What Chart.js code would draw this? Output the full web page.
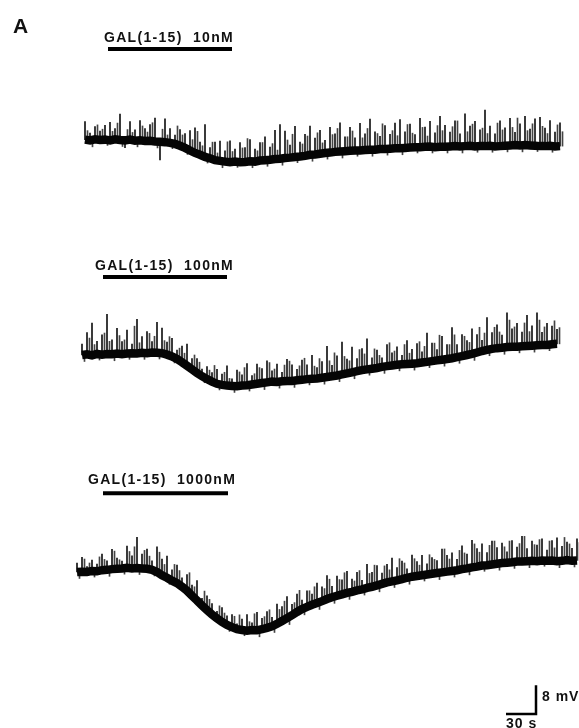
<!DOCTYPE html>
<html>
<head>
    <title>GAL(1-15) membrane potential traces</title>
    <script src="https://cdn.jsdelivr.net/npm/chart.js"></script>
    <style>
        body { margin: 0; background: #fff; }
        #wrap { position: relative; width: 579px; height: 728px; overflow: hidden; }
        #wrap canvas { position: absolute; left: 0; top: 0; }
        .lbl {
            position: absolute;
            font-family: Arial, "Liberation Sans", sans-serif;
            font-weight: bold;
            color: #111;
            white-space: pre;
            line-height: 1;
        }
        .drug { font-size: 14px; letter-spacing: 1.3px; }
    </style>
</head>
<body>
<div id="wrap">
    <canvas id="traces" width="579" height="728"></canvas>
    <div class="lbl" style="left:13px; top:15px; font-size:21px;">A</div>
    <div class="lbl drug" style="left:104px; top:30px;">GAL(1-15)  10nM</div>
    <div class="lbl drug" style="left:95px; top:258px;">GAL(1-15)  100nM</div>
    <div class="lbl drug" style="left:88px; top:472px;">GAL(1-15)  1000nM</div>
    <div class="lbl" style="left:542px; top:689px; font-size:14px; letter-spacing:1px;">8 mV</div>
    <div class="lbl" style="left:506px; top:716px; font-size:14px; letter-spacing:1px;">30 s</div>
</div>

<script>
    // membrane potential, mV relative to resting level, one sample every 5 s
    const DT = 5;

    // 10 nM
    const v10 = [
        0.1,-0.1,0.2,0.0,0.1,-0.1,0.2,0.0,-0.1,0.1,
        -0.2,-0.1,-0.3,-0.2,-0.4,-0.5,-0.6,-0.8,-1.1,-1.6,
        -2.2,-2.9,-3.6,-4.1,-4.7,-5.1,-5.6,-5.8,-6.0,-6.2,
        -6.0,-6.2,-6.1,-5.9,-6.0,-5.7,-5.6,-5.5,-5.3,-5.2,
        -5.0,-4.9,-4.7,-4.6,-4.4,-4.1,-4.0,-3.8,-3.6,-3.5,
        -3.3,-3.2,-3.1,-3.0,-2.9,-2.9,-2.8,-2.7,-2.7,-2.5,
        -2.5,-2.4,-2.3,-2.3,-2.2,-2.1,-2.0,-2.0,-1.9,-1.8,
        -2.0,-1.9,-1.9,-1.8,-1.7,-1.8,-1.7,-1.6,-1.8,-1.7,
        -1.7,-1.6,-1.8,-1.7,-1.6,-1.5,-1.4,-1.5,-1.4,-1.5,
        -1.6,-1.7,-1.7,-1.6,-1.8,-1.7
    ];
    // spike excursions from the trace at each sample, mV
    const s10 = [
        5.0,2.0,3.5,2.5,4.0,5.0,3.0,7.2,-2.0,5.0,
        3.0,5.5,3.5,4.5,6.5,-5.0,6.5,4.0,2.5,4.5,
        4.0,5.5,7.0,3.5,9.0,3.0,5.0,5.5,3.0,6.0,
        3.5,5.5,4.0,6.0,3.5,5.0,6.5,3.5,8.0,9.5,
        7.5,3.5,8.5,4.0,6.0,8.0,4.5,6.5,3.5,7.0,
        5.0,8.0,4.0,6.5,3.5,7.5,4.5,8.5,5.0,3.5,
        6.5,4.0,7.0,8.0,4.5,6.5,3.5,8.0,5.5,7.0,
        4.0,8.5,6.0,4.0,7.0,3.5,9.0,5.5,7.0,4.5,
        10.0,5.5,3.5,7.0,5.0,7.5,3.5,6.0,8.0,4.5,
        7.5,8.0,5.0,7.0,4.0,6.5
    ];
    // excursions half way between samples
    const h10 = [
        2.5,-1.8,4.0,3.0,-1.6,2.5,4.5,-1.8,3.0,2.0,
        -1.7,4.0,2.5,5.0,-1.8,3.5,2.0,-1.6,5.0,3.0,
        -1.8,3.0,6.0,2.5,-1.7,4.5,2.0,-1.9,5.5,3.0,
        -1.6,4.0,6.5,-1.8,3.0,5.0,-1.7,4.5,2.5,-1.8,
        5.0,6.5,-1.6,3.5,5.5,-1.8,6.0,3.0,-1.7,5.0,
        6.5,-1.8,4.0,5.5,-1.6,3.5,6.0,-1.8,4.5,7.0,
        -1.7,5.0,3.5,-1.8,6.5,4.0,-1.6,5.5,3.0,-1.8,
        6.0,4.5,-1.7,5.5,7.0,-1.8,4.0,6.0,-1.6,5.0,
        3.5,-1.8,6.5,4.5,-1.7,5.0,7.5,-1.8,4.0,6.0,
        -1.6,5.5,3.5,-1.8,6.0,4.0
    ];

    // 100 nM
    const v100 = [
        0.0,0.2,-0.1,0.3,0.1,0.3,0.2,0.4,0.2,0.4,
        0.5,0.4,0.6,0.5,0.7,0.6,0.5,0.1,-0.4,-1.1,
        -2.0,-3.0,-4.0,-5.0,-5.9,-6.7,-7.4,-8.0,-8.3,-8.5,
        -8.6,-8.7,-8.5,-8.4,-8.2,-8.0,-7.8,-7.6,-7.4,-7.5,
        -7.3,-7.2,-7.2,-7.0,-6.9,-6.7,-6.6,-6.5,-6.3,-6.1,
        -5.9,-5.7,-5.4,-5.1,-4.8,-4.5,-4.2,-4.0,-3.8,-3.6,
        -3.3,-3.1,-2.9,-2.7,-2.6,-2.5,-2.4,-2.3,-2.1,-1.9,
        -1.7,-1.5,-1.3,-1.1,-0.9,-0.6,-0.3,0.0,0.3,0.7,
        1.1,1.4,1.7,1.9,2.0,2.2,2.3,2.3,2.4,2.5,
        2.6,2.7,2.8,2.8,3.0,3.1
    ];
    const s100 = [
        3.0,6.0,9.0,3.5,5.5,11.0,4.0,7.0,3.5,6.5,
        2.5,9.5,4.5,6.0,3.0,8.5,7.0,3.5,5.0,2.5,
        4.5,6.0,3.0,4.0,2.0,3.5,2.5,4.0,3.0,5.5,
        2.0,4.5,3.0,6.0,2.5,5.5,4.0,6.0,3.0,5.0,
        2.5,6.0,4.5,3.0,5.5,4.0,6.5,3.0,4.5,8.5,
        3.0,5.5,9.0,4.0,7.0,3.5,6.0,8.5,3.0,5.0,
        2.5,6.0,3.5,5.0,2.5,6.5,4.0,5.5,3.0,8.0,
        5.0,3.0,6.5,4.0,8.5,3.5,6.0,4.0,7.0,5.0,
        3.0,9.0,4.5,6.5,3.5,9.5,5.0,6.5,4.0,8.5,
        5.5,9.0,3.5,6.0,5.0,4.0
    ];
    const h100 = [
        -1.8,4.5,3.0,-1.7,6.0,3.5,-1.8,5.0,4.0,-1.6,
        7.5,3.0,-1.8,5.5,4.5,-1.7,3.5,5.0,-1.8,3.0,
        2.5,-1.6,4.0,3.0,-1.8,2.5,4.5,-1.7,3.5,2.0,
        -1.8,4.0,5.0,-1.6,3.0,4.5,-1.8,5.5,3.5,-1.7,
        4.5,5.5,-1.8,4.0,6.0,-1.6,3.5,5.5,-1.8,4.5,
        6.5,-1.7,5.0,3.5,-1.8,6.0,4.5,-1.6,5.5,3.5,
        -1.8,6.5,4.0,-1.7,5.5,3.0,-1.8,6.0,4.5,-1.6,
        5.0,7.0,-1.8,4.0,6.5,-1.7,5.5,3.5,-1.8,7.0,
        5.0,-1.6,6.0,4.5,-1.8,7.5,5.5,-1.7,6.5,4.0,
        -1.8,7.0,5.0,-1.6,6.5,4.5
    ];

    // 1000 nM
    const v1000 = [
        0.0,0.1,0.0,0.3,0.2,0.5,0.6,0.8,0.9,1.0,
        1.2,1.0,1.1,1.0,0.9,0.6,0.0,-0.9,-1.6,-2.4,
        -3.1,-4.1,-5.2,-6.6,-7.9,-9.3,-10.6,-11.8,-12.9,-13.9,
        -14.7,-15.3,-15.9,-16.1,-16.3,-16.1,-16.2,-15.9,-15.5,-15.1,
        -14.4,-13.6,-12.8,-12.0,-11.1,-10.3,-9.7,-9.1,-8.6,-8.1,
        -7.5,-7.0,-6.6,-6.2,-5.8,-5.5,-5.1,-4.8,-4.4,-4.1,
        -3.7,-3.3,-2.9,-2.6,-2.3,-2.0,-1.6,-1.3,-1.1,-0.9,
        -0.7,-0.5,-0.3,-0.1,0.1,0.3,0.5,0.8,1.0,1.3,
        1.5,1.8,1.9,2.1,2.3,2.5,2.6,2.7,2.9,2.9,
        3.0,3.1,3.0,3.2,3.1,3.2,3.0,3.1,3.3,3.1,
        3.2
    ];
    const s1000 = [
        2.5,4.0,1.5,3.0,2.0,4.5,2.5,5.5,3.0,2.0,
        6.0,3.5,8.5,4.0,5.5,2.5,7.0,4.5,6.0,3.0,
        5.0,2.5,4.5,3.0,5.5,2.0,4.0,3.0,2.0,4.0,
        2.5,3.5,1.5,3.0,4.5,2.0,5.0,3.0,4.5,2.5,
        5.5,4.0,6.0,3.0,5.0,2.5,4.5,3.0,5.5,4.0,
        6.5,3.0,5.5,4.0,6.0,3.5,5.0,2.5,6.5,4.0,
        5.5,3.0,5.0,6.5,3.5,5.0,2.5,6.0,4.0,5.5,
        3.0,4.5,3.5,6.5,4.5,5.0,3.0,6.5,4.0,7.5,
        5.0,6.0,3.5,6.5,4.5,5.5,3.0,6.0,4.0,7.0,
        3.5,5.5,4.5,6.0,3.0,5.5,6.5,4.0,5.0,3.5,
        6.0
    ];
    const h1000 = [
        -1.8,3.5,2.5,-1.7,4.0,3.0,-1.8,5.0,2.5,-1.6,
        4.5,6.0,-1.8,5.0,3.5,-1.7,5.5,3.0,-1.8,4.5,
        3.5,-1.6,5.0,2.5,-1.8,4.0,3.0,-1.7,3.5,2.5,
        -1.8,3.0,4.0,-1.6,2.5,4.5,-1.8,3.5,5.0,-1.7,
        4.0,5.5,-1.8,3.5,6.0,-1.6,4.5,5.0,-1.8,3.5,
        5.5,-1.7,4.5,6.0,-1.8,3.0,5.5,-1.6,4.0,6.0,
        -1.8,5.0,3.5,-1.7,6.0,4.5,-1.8,5.0,3.0,-1.6,
        5.5,4.0,-1.8,6.5,3.5,-1.7,5.5,4.5,-1.8,6.5,
        4.0,-1.6,5.5,6.5,-1.8,4.5,6.0,-1.7,5.0,7.0,
        -1.8,4.5,6.0,-1.6,5.5,3.5,-1.8,6.5,4.5,-1.7,
        5.0
    ];

    // drug application, s from start of each recording
    const drugOn  = [23, 21, 26];
    const drugOff = [147, 145, 151];

    // calibration
    const SCALE_S = 30;
    const SCALE_MV = 8;

    // layout: page is mapped 1 px = 1 s across, 3.6 px = 1 mV down
    const PX_PER_MV = 3.6;
    const Y_MIN = -728 / PX_PER_MV;
    const starts = [85, 82, 77];                              // s, left edge of each trace
    const bases = [-140, -355, -572].map(p => p / PX_PER_MV); // resting level of each trace
    const barLift = [25.3, 21.7, 21.9];                       // drug bar height above trace, mV
    const calX = 536, calY = -714 / PX_PER_MV;

    function spikeSet(v, s, x0, y0, shift, colour) {
        return {
            type: 'bar',
            data: v.map((y, i) => ({ x: x0 + i * DT + shift, y: [y0 + y, y0 + y + s[i]] })),
            backgroundColor: colour,
            barThickness: 1,
            grouped: false,
            order: 2
        };
    }

    function traceSets(v, s, h, k) {
        const x0 = starts[k], y0 = bases[k];
        return [
            {
                type: 'line',
                data: v.map((y, i) => ({ x: x0 + i * DT, y: y0 + y })),
                borderColor: '#050505',
                borderWidth: 8.5,
                pointRadius: 0,
                tension: 0,
                order: 1
            },
            spikeSet(v, s, x0, y0, 0, 'rgba(5,5,5,0.95)'),
            spikeSet(v, h, x0, y0, 2.5, 'rgba(35,35,35,0.85)'),
            {
                type: 'line',
                data: [
                    { x: x0 + drugOn[k], y: y0 + barLift[k] },
                    { x: x0 + drugOff[k], y: y0 + barLift[k] }
                ],
                borderColor: '#000',
                borderWidth: 4,
                pointRadius: 0,
                order: 0
            }
        ];
    }

    const datasets = [
        ...traceSets(v10, s10, h10, 0),
        ...traceSets(v100, s100, h100, 1),
        ...traceSets(v1000, s1000, h1000, 2),
        {
            type: 'line',
            data: [
                { x: calX - SCALE_S, y: calY },
                { x: calX, y: calY },
                { x: calX, y: calY + SCALE_MV }
            ],
            borderColor: '#000',
            borderWidth: 2.5,
            pointRadius: 0,
            tension: 0,
            order: 0
        }
    ];

    new Chart(document.getElementById('traces'), {
        type: 'bar',
        data: { datasets: datasets },
        options: {
            responsive: false,
            animation: false,
            devicePixelRatio: 1,
            events: [],
            layout: { padding: 0 },
            plugins: { legend: { display: false }, tooltip: { enabled: false } },
            scales: {
                x: { type: 'linear', display: false, min: 0, max: 579, offset: false },
                y: { type: 'linear', display: false, min: Y_MIN, max: 0 }
            }
        }
    });
</script>
</body>
</html>
